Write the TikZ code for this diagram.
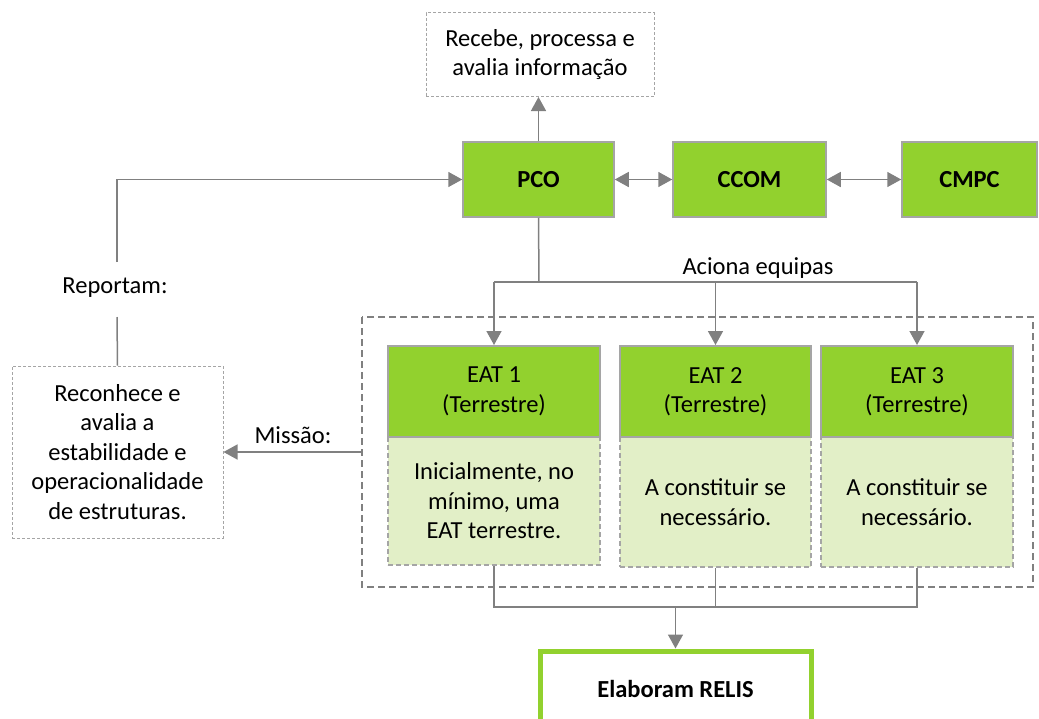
\documentclass[tikz,border=0pt]{standalone}
\usepackage{fontspec}
\setmainfont{Carlito}
\usetikzlibrary{arrows.meta}
\definecolor{hdrgreen}{RGB}{146,209,46}
\definecolor{bodygreen}{RGB}{226,239,199}
\definecolor{lgray}{RGB}{128,128,128}
\definecolor{bgray}{RGB}{165,165,165}
\tikzset{
  conn/.style={draw=lgray, line width=1.5pt},
  arr/.style={conn, -{Triangle[length=14pt,width=15pt]}},
  arrb/.style={conn, {Triangle[length=14pt,width=15pt]}-{Triangle[length=14pt,width=15pt]}},
  txt/.style={font=\fontsize{24.5}{29.5}\selectfont, align=center},
  notebox/.style={txt, draw=bgray, line width=1pt, dash pattern=on 3pt off 2pt, fill=white, inner sep=0pt},
  greenbox/.style={txt, font=\fontsize{24.5}{29.5}\selectfont\bfseries, draw=bgray, line width=1.5pt, fill=hdrgreen, inner sep=0pt},
  eathead/.style={txt, draw=bgray, line width=2pt, fill=hdrgreen, inner sep=0pt},
  eatbody/.style={txt, draw=bgray, line width=2pt, dash pattern=on 5pt off 3pt, fill=bodygreen, inner sep=0pt},
  container/.style={draw=lgray, line width=2pt, dash pattern=on 7pt off 4pt},
  relisbox/.style={txt, font=\fontsize{24.5}{29.5}\selectfont\bfseries, draw=hdrgreen, line width=5pt, fill=white, inner sep=0pt}
}
\begin{document}
\begin{tikzpicture}[x=1pt,y=-1pt]
\useasboundingbox (0,0) rectangle (1039,718);
% container
\draw[container] (362,317) rectangle (1033,587);
% top boxes
\node[notebox, minimum width=228pt, minimum height=84pt] (rec) at (540,54.5) {Recebe, processa e\\avalia informação};
\node[greenbox, minimum width=151pt, minimum height=75pt] (pco) at (538.5,179.5) {PCO};
\node[greenbox, minimum width=153pt, minimum height=75pt] (ccom) at (749.5,179.5) {CCOM};
\node[greenbox, minimum width=135pt, minimum height=75pt] (cmpc) at (969.5,179.5) {CMPC};
% left box
\node[notebox, minimum width=211pt, minimum height=172pt] (rep) at (117.5,452) {Reconhece e\\avalia a\\estabilidade e\\operacionalidade\\de estruturas.};
% EAT boxes
\node[eatbody, minimum width=212pt, minimum height=128pt] (eat1b) at (494,501) {Inicialmente, no\\mínimo, uma\\EAT terrestre.};
\node[eatbody, minimum width=191pt, minimum height=130pt] (eat2b) at (715.5,502) {A constituir se\\necessário.};
\node[eatbody, minimum width=192pt, minimum height=130pt] (eat3b) at (917,502) {A constituir se\\necessário.};
\node[eathead, minimum width=212pt, minimum height=91pt] (eat1h) at (494,391.5) {EAT 1\\(Terrestre)};
\node[eathead, minimum width=191pt, minimum height=91pt] (eat2h) at (715.5,391.5) {EAT 2\\(Terrestre)};
\node[eathead, minimum width=192pt, minimum height=91pt] (eat3h) at (917,391.5) {EAT 3\\(Terrestre)};
% RELIS
\node[relisbox, minimum width=271pt, minimum height=76pt] (relis) at (675.5,689) {Elaboram RELIS};
% labels
\node[txt] (reportam) at (115,288) {Reportam:};
\node[txt] (missao) at (293,435) {Missão:};
\node[txt] (aciona) at (758,268) {Aciona equipas};
% connectors
\coordinate (rtop) at (117,179.5);
\coordinate (rgap1) at (117,262);
\coordinate (rgap2) at (117,317);
\draw[arr] (rgap1) -- (rtop) -- (pco.west);
\draw[conn] (rep.north) -- (rgap2);
\draw[arr] (pco.north) -- (pco.north |- rec.south);
\draw[arrb] (pco.east) -- (ccom.west);
\draw[arrb] (ccom.east) -- (cmpc.west);
\draw[arr] (rep.east -| 362,0) -- (rep.east);
\coordinate (bus1) at (539,282);
\draw[conn] (pco.south) -- (bus1);
\draw[conn] (eat1h.north |- bus1) -- (eat3h.north |- bus1);
\draw[arr] (eat1h.north |- bus1) -- (eat1h.north);
\draw[arr] (eat2h.north |- bus1) -- (eat2h.north);
\draw[arr] (eat3h.north |- bus1) -- (eat3h.north);
\coordinate (bus2) at (675.5,607);
\draw[conn] (eat1b.south) -- (eat1b.south |- bus2) -- (eat3b.south |- bus2) -- (eat3b.south);
\draw[conn] (eat2b.south) -- (eat2b.south |- bus2);
\draw[arr] (bus2) -- (relis.north);
\end{tikzpicture}
\end{document}
